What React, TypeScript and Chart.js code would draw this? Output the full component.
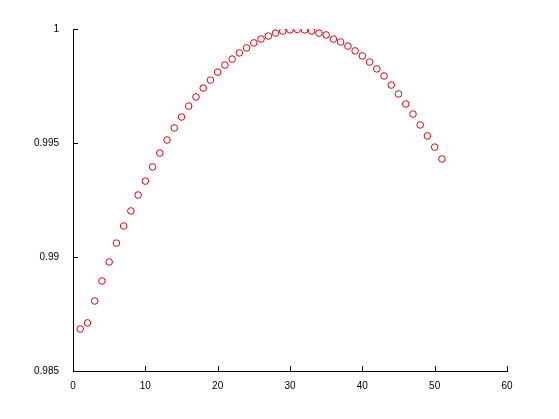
import React, { useEffect, useRef } from "react";
import { Chart, registerables } from "chart.js";

Chart.register(...registerables);

const xValues: number[] = [
  1, 2, 3, 4, 5, 6, 7, 8, 9, 10, 11, 12, 13, 14, 15, 16, 17, 18, 19, 20, 21, 22, 23, 24, 25, 26,
  27, 28, 29, 30, 31, 32, 33, 34, 35, 36, 37, 38, 39, 40, 41, 42, 43, 44, 45, 46, 47, 48, 49, 50, 51,
];
const yValues: number[] = [
  0.98684, 0.98711, 0.98807, 0.98895, 0.98978, 0.99061, 0.99136, 0.99202, 0.99272, 0.99333,
  0.99395, 0.99456, 0.99513, 0.99566, 0.99614, 0.99662, 0.99702, 0.99741, 0.99776, 0.99811,
  0.99842, 0.99868, 0.99895, 0.99917, 0.99939, 0.99956, 0.99969, 0.99982, 0.99991, 0.99996,
  0.99998, 0.99996, 0.99991, 0.99982, 0.99974, 0.99956, 0.99943, 0.99925, 0.99904, 0.99882,
  0.99855, 0.99825, 0.99794, 0.99754, 0.99715, 0.99671, 0.99627, 0.99579, 0.99531, 0.99482,
  0.9943,
];
const xTicks: number[] = [0, 10, 20, 30, 40, 50, 60];
const yTicks: number[] = [0.985, 0.99, 0.995, 1];

const innerTicks = {
  id: "innerTicks",
  afterDraw(chart: any) {
    const ctx = chart.ctx;
    const xs = chart.scales.x;
    const ys = chart.scales.y;
    const area = chart.chartArea;
    ctx.save();
    ctx.strokeStyle = "#000";
    ctx.lineWidth = 1;
    ctx.beginPath();
    xTicks.forEach((v) => {
      const px = Math.round(xs.getPixelForValue(v)) + 0.5;
      ctx.moveTo(px, area.bottom);
      ctx.lineTo(px, area.bottom - 5);
    });
    yTicks.forEach((v) => {
      const py = Math.round(ys.getPixelForValue(v)) + 0.5;
      ctx.moveTo(area.left, py);
      ctx.lineTo(area.left + 5, py);
    });
    ctx.stroke();
    ctx.restore();
  },
};

export default function App() {
  const ref = useRef<HTMLCanvasElement | null>(null);
  useEffect(() => {
    if (!ref.current) return;
    const font = { family: "'Liberation Sans', Arial, sans-serif", size: 10 };
    const chart = new Chart(ref.current, {
      type: "scatter",
      data: {
        datasets: [
          {
            data: xValues.map((x, i) => ({ x, y: yValues[i] })),
            pointStyle: "circle",
            pointRadius: 3.3,
            pointBorderWidth: 1,
            pointBorderColor: "#dc0010",
            pointBackgroundColor: "rgba(0,0,0,0)",
            showLine: false,
          },
        ],
      },
      options: {
        animation: false,
        responsive: false,
        maintainAspectRatio: false,
        layout: { padding: { left: 0, top: 29, right: 52, bottom: 0 } },
        plugins: { legend: { display: false }, tooltip: { enabled: false } },
        scales: {
          x: {
            type: "linear",
            min: 0,
            max: 60,
            afterBuildTicks: (s: any) => {
              s.ticks = xTicks.map((v) => ({ value: v }));
            },
            afterFit: (s: any) => {
              s.height = 48;
            },
            grid: { display: false },
            border: { display: true, color: "#000", width: 1 },
            ticks: { color: "#000", font, padding: 1, maxRotation: 0, callback: (v: any) => String(v) },
          },
          y: {
            type: "linear",
            min: 0.985,
            max: 1,
            afterBuildTicks: (s: any) => {
              s.ticks = yTicks.map((v) => ({ value: v }));
            },
            afterFit: (s: any) => {
              s.width = 73;
            },
            grid: { display: false },
            border: { display: true, color: "#000", width: 1 },
            ticks: { color: "#000", font, padding: 6, callback: (v: any) => String(Number(v.toFixed(3))) },
          },
        },
      },
      plugins: [innerTicks],
    });
    return () => chart.destroy();
  }, []);
  return (
    <div style={{ position: "fixed", left: 0, top: 0, width: 559, height: 419, background: "#fff" }}>
      <canvas ref={ref} width={559} height={419} style={{ width: 559, height: 419 }} />
    </div>
  );
}
